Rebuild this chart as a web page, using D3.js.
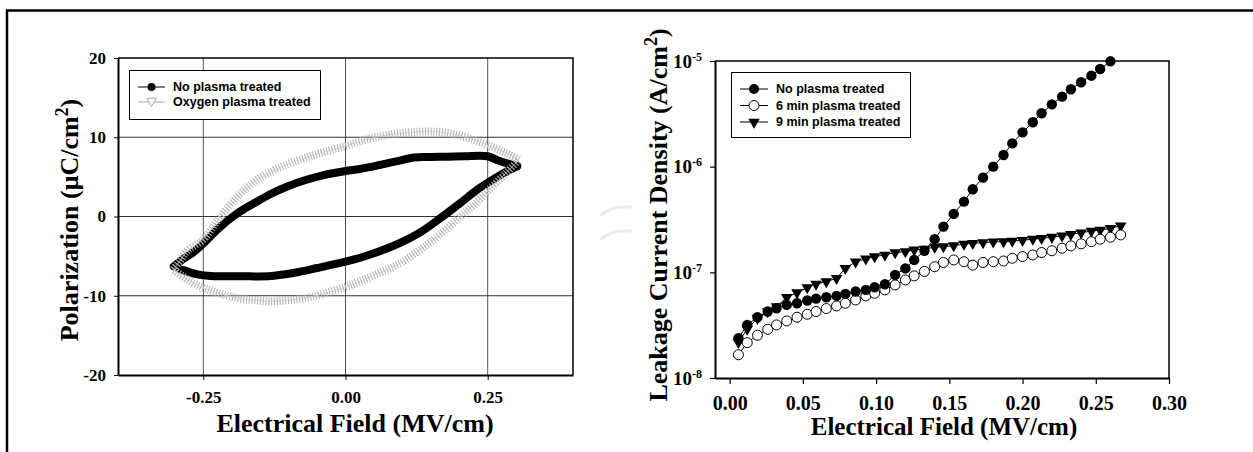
<!DOCTYPE html>
<html>
<head>
<meta charset="utf-8">
<script src="https://d3js.org/d3.v7.min.js"></script>
<style>
  body { margin: 0; background: #fff; }
  svg { display: block; }
  .serif { font-family: "Liberation Serif", "Times New Roman", serif; font-weight: bold; }
  .sans { font-family: "Liberation Sans", Arial, sans-serif; font-weight: bold; }
</style>
</head>
<body>
<div id="container"></div>
<script>
// ---- left panel: P-E hysteresis loops ----
var fieldNoUp = [-0.302,-0.284,-0.267,-0.250,-0.220,-0.190,-0.160,-0.130,-0.100,-0.070,-0.040,0.000,0.025,0.060,0.095,0.120,0.150,0.180,0.210,0.250,0.267,0.284,0.302];
var polNoUp = [-6.3,-5.3,-4.5,-3.4,-1.3,0.4,1.7,2.9,3.85,4.6,5.2,5.75,6.0,6.5,7.05,7.45,7.5,7.55,7.6,7.6,7.1,6.7,6.35];
var fieldNoDown = [-0.302,-0.284,-0.260,-0.237,-0.180,-0.130,-0.090,-0.050,0.000,0.026,0.060,0.097,0.132,0.167,0.202,0.232,0.261,0.284,0.302];
var polNoDown = [-6.3,-6.8,-7.3,-7.5,-7.55,-7.5,-7.1,-6.5,-5.7,-5.2,-4.4,-3.3,-1.97,-0.2,1.7,3.4,4.75,5.7,6.35];

var fieldOxUp = [-0.303,-0.290,-0.278,-0.250,-0.220,-0.190,-0.160,-0.130,-0.100,-0.070,-0.040,0.000,0.026,0.060,0.097,0.132,0.167,0.202,0.232,0.261,0.284,0.305];
var polOxUp = [-6.7,-5.5,-4.3,-2.9,0.0,2.5,4.4,5.7,6.65,7.4,8.1,8.9,9.5,10.1,10.5,10.7,10.65,10.2,9.5,8.7,7.95,7.2];
var fieldOxDown = [-0.303,-0.278,-0.250,-0.220,-0.190,-0.160,-0.130,-0.100,-0.070,-0.040,0.000,0.026,0.060,0.097,0.132,0.167,0.202,0.232,0.261,0.284,0.305];
var polOxDown = [-6.7,-7.95,-9.0,-9.75,-10.3,-10.55,-10.7,-10.55,-10.3,-9.75,-8.9,-8.15,-7.1,-5.85,-4.15,-2.2,0.0,1.9,4.0,5.6,7.2];

var loopXTicks = [-0.25, 0, 0.25];
var loopXLabels = ['-0.25', '0.00', '0.25'];
var loopYTicks = [-20, -10, 0, 10, 20];
var loopYLabels = ['-20', '-10', '0', '10', '20'];
var loopNames = ['No plasma treated', 'Oxygen plasma treated'];

// ---- right panel: leakage current ----
var fieldLeak = [0.006,0.012,0.019,0.026,0.032,0.039,0.046,0.053,0.059,0.066,0.073,0.079,0.086,0.093,0.099,0.106,0.113,0.120,0.126,0.133,0.140,0.146,0.153,0.160,0.166,0.173,0.180,0.187,0.193,0.200,0.207,0.213,0.220,0.227,0.233,0.240,0.247,0.253,0.260,0.267];
var leakNo = [2.38e-8,3.18e-8,3.76e-8,4.26e-8,4.57e-8,4.92e-8,5.10e-8,5.41e-8,5.64e-8,5.81e-8,5.98e-8,6.25e-8,6.58e-8,6.82e-8,7.23e-8,7.71e-8,9.45e-8,1.09e-7,1.31e-7,1.60e-7,2.06e-7,2.71e-7,3.57e-7,4.67e-7,6.11e-7,7.87e-7,1.00e-6,1.29e-6,1.66e-6,2.11e-6,2.63e-6,3.20e-6,3.89e-6,4.60e-6,5.40e-6,6.29e-6,7.26e-6,8.40e-6,9.93e-6];
var leak6 = [1.66e-8,2.16e-8,2.54e-8,2.89e-8,3.18e-8,3.47e-8,3.76e-8,4.01e-8,4.26e-8,4.54e-8,4.81e-8,5.10e-8,5.48e-8,5.98e-8,6.34e-8,6.82e-8,7.60e-8,8.47e-8,9.25e-8,1.02e-7,1.13e-7,1.24e-7,1.31e-7,1.26e-7,1.17e-7,1.24e-7,1.26e-7,1.28e-7,1.36e-7,1.41e-7,1.46e-7,1.54e-7,1.60e-7,1.69e-7,1.78e-7,1.86e-7,1.95e-7,2.06e-7,2.15e-7,2.26e-7];
var leak9 = [2.18e-8,2.9e-8,3.68e-8,4.26e-8,4.74e-8,5.81e-8,6.43e-8,7.16e-8,7.76e-8,8.17e-8,8.79e-8,1.09e-7,1.26e-7,1.34e-7,1.41e-7,1.46e-7,1.54e-7,1.57e-7,1.63e-7,1.66e-7,1.73e-7,1.75e-7,1.79e-7,1.85e-7,1.88e-7,1.91e-7,1.94e-7,1.95e-7,1.98e-7,2.01e-7,2.06e-7,2.10e-7,2.15e-7,2.21e-7,2.29e-7,2.37e-7,2.46e-7,2.51e-7,2.61e-7,2.75e-7];

var leakXTicks = [0, 0.05, 0.10, 0.15, 0.20, 0.25, 0.30];
var leakYTicks = [1e-8, 1e-7, 1e-6, 1e-5];
var leakYExp = ['-8', '-7', '-6', '-5'];
var leakNames = ['No plasma treated', '6 min plasma treated', '9 min plasma treated'];

var W = 1253, H = 452;

var svg = d3.select('#container').append('svg')
	.attr('width', W).attr('height', H)
	.style('background', '#fff');

// outer frame (top + left edge)
svg.append('path')
	.attr('d', 'M7,' + H + 'V10.5H' + W)
	.attr('fill', 'none').attr('stroke', '#000').attr('stroke-width', 2.5);

// faint watermark arcs between the panels
svg.append('path')
	.attr('d', 'M600,216Q612,205 632,207M600,240Q612,229 632,231')
	.attr('fill', 'none').attr('stroke', '#ececec').attr('stroke-width', 3);

//======== left panel ========
var xL = d3.scaleLinear().domain([-0.4, 0.4]).range([118, 573]);
var yL = d3.scaleLinear().domain([-20, 20]).range([375, 58]);

var gL = svg.append('g');

// grid
gL.selectAll('line.vgrid').data(loopXTicks).enter().append('line')
	.attr('x1', d => xL(d)).attr('x2', d => xL(d))
	.attr('y1', yL(20)).attr('y2', yL(-20))
	.attr('stroke', '#555').attr('stroke-width', 1);
gL.selectAll('line.hgrid').data([-10, 0, 10]).enter().append('line')
	.attr('x1', xL(-0.4)).attr('x2', xL(0.4))
	.attr('y1', d => yL(d)).attr('y2', d => yL(d))
	.attr('stroke', '#333').attr('stroke-width', 1);

// axes
var axLx = gL.append('g').attr('transform', 'translate(0,' + yL(-20) + ')')
	.call(d3.axisBottom(xL).tickValues(loopXTicks).tickSize(5).tickSizeOuter(0).tickPadding(11)
		.tickFormat((d, i) => loopXLabels[i]));
var axLy = gL.append('g').attr('transform', 'translate(' + xL(-0.4) + ',0)')
	.call(d3.axisLeft(yL).tickValues(loopYTicks).tickSize(4).tickSizeOuter(0).tickPadding(8)
		.tickFormat((d, i) => loopYLabels[i]));
[axLx, axLy].forEach(function(a){
	a.select('.domain').attr('stroke', '#000').attr('stroke-width', 2);
	a.selectAll('.tick line').attr('stroke', '#000');
	a.selectAll('text').attr('class', 'serif').style('font-size', '17px').attr('fill', '#000');
});

// box top/right
gL.append('path')
	.attr('d', 'M' + xL(-0.4) + ',' + yL(20) + 'H' + xL(0.4) + 'V' + yL(-20))
	.attr('fill', 'none').attr('stroke', '#000').attr('stroke-width', 1.5);

var loopLine = d3.line().x(d => xL(d[0])).y(d => yL(d[1])).curve(d3.curveCatmullRom);

var loopNo = d3.zip(fieldNoUp, polNoUp).reverse().concat(d3.zip(fieldNoDown, polNoDown));
var loopOx = d3.zip(fieldOxUp, polOxUp).reverse().concat(d3.zip(fieldOxDown, polOxDown));

gL.append('path').datum(loopNo)
	.attr('d', loopLine)
	.attr('fill', 'none').attr('stroke', '#000')
	.attr('stroke-width', 8).attr('stroke-linejoin', 'round').attr('stroke-linecap', 'round');

gL.append('path').datum(loopOx)
	.attr('d', loopLine)
	.attr('fill', 'none').attr('stroke', '#b4b4b4')
	.attr('stroke-width', 8).attr('stroke-dasharray', '1.1,1.7');
gL.append('path').datum(loopOx)
	.attr('d', loopLine)
	.attr('fill', 'none').attr('stroke', '#c8c8c8').attr('stroke-width', 0.8);

// titles
gL.append('text').attr('class', 'serif')
	.attr('x', 355).attr('y', 432).attr('text-anchor', 'middle')
	.style('font-size', '26px').text('Electrical Field (MV/cm)');
var tLy = gL.append('text').attr('class', 'serif')
	.attr('transform', 'translate(78,220) rotate(-90)').attr('text-anchor', 'middle')
	.style('font-size', '26px');
tLy.append('tspan').text('Polarization (\u03BCC/cm');
tLy.append('tspan').attr('dy', -10).style('font-size', '18px').text('2');
tLy.append('tspan').attr('dy', 10).text(')');

// legend
var legL = gL.append('g');
legL.append('rect').attr('x', 129.5).attr('y', 70.5).attr('width', 191).attr('height', 49)
	.attr('fill', '#fff').attr('stroke', '#000').attr('stroke-width', 1);
var legLRows = legL.selectAll('g.row').data(loopNames).enter().append('g')
	.attr('transform', (d, i) => 'translate(0,' + (87 + i * 15) + ')');
legLRows.append('line').attr('x1', 138).attr('x2', 165)
	.attr('stroke', (d, i) => i ? '#aaa' : '#000').attr('stroke-width', 1);
legLRows.filter((d, i) => i === 0).append('circle')
	.attr('cx', 151.5).attr('r', 4).attr('fill', '#000');
legLRows.filter((d, i) => i === 1).append('path')
	.attr('d', d3.symbol(d3.symbolTriangle, 40))
	.attr('transform', 'translate(151.5,-1) rotate(180)')
	.attr('fill', '#fff').attr('stroke', '#aaa').attr('stroke-width', 1);
legLRows.append('text').attr('class', 'sans')
	.attr('x', 173).attr('dy', '0.35em').style('font-size', '12.5px').text(d => d);

//======== right panel ========
var xR = d3.scaleLinear().domain([-0.01, 0.30]).range([715, 1169]);
var yR = d3.scaleLog().domain([1e-8, 1e-5]).range([378, 61]);

var gR = svg.append('g');

var axRx = gR.append('g').attr('transform', 'translate(0,' + yR(1e-8) + ')')
	.call(d3.axisBottom(xR).tickValues(leakXTicks).tickSize(6).tickSizeOuter(0).tickPadding(12)
		.tickFormat(d3.format('.2f')));
var axRy = gR.append('g').attr('transform', 'translate(' + xR(-0.01) + ',0)')
	.call(d3.axisLeft(yR).tickValues(leakYTicks).tickSize(5).tickSizeOuter(0).tickPadding(13)
		.tickFormat(() => ''));
[axRx, axRy].forEach(function(a){
	a.select('.domain').attr('stroke', '#000').attr('stroke-width', 2);
	a.selectAll('.tick line').attr('stroke', '#000').attr('stroke-width', 1.2);
});
axRx.selectAll('text').attr('class', 'serif').style('font-size', '20px').attr('fill', '#000');

var yLab = axRy.selectAll('.tick text').attr('class', 'serif').attr('fill', '#000')
	.attr('dy', '0.32em').style('font-size', '19px');
yLab.append('tspan').text('10');
yLab.append('tspan').attr('dy', -7).style('font-size', '12px').text((d, i) => leakYExp[i]);
yLab.attr('text-anchor', 'end').attr('x', -13);

gR.append('path')
	.attr('d', 'M' + xR(-0.01) + ',' + yR(1e-5) + 'H' + xR(0.30) + 'V' + yR(1e-8))
	.attr('fill', 'none').attr('stroke', '#000').attr('stroke-width', 1.5);

var leakLine = d3.line().x(d => xR(d[0])).y(d => yR(d[1]));
var ptsNo = d3.zip(fieldLeak.slice(0, leakNo.length), leakNo);
var pts6 = d3.zip(fieldLeak, leak6);
var pts9 = d3.zip(fieldLeak, leak9);

[ptsNo, pts6, pts9].forEach(function(p){
	gR.append('path').datum(p).attr('d', leakLine)
		.attr('fill', 'none').attr('stroke', '#000').attr('stroke-width', 1);
});

var triDown = d3.symbol(d3.symbolTriangle, 58);
gR.append('g').selectAll('path').data(pts9).enter().append('path')
	.attr('d', triDown)
	.attr('transform', d => 'translate(' + xR(d[0]) + ',' + yR(d[1]) + ') rotate(180)')
	.attr('fill', '#000');
gR.append('g').selectAll('circle').data(pts6).enter().append('circle')
	.attr('cx', d => xR(d[0])).attr('cy', d => yR(d[1])).attr('r', 5)
	.attr('fill', '#fff').attr('stroke', '#000').attr('stroke-width', 1);
gR.append('g').selectAll('circle').data(ptsNo).enter().append('circle')
	.attr('cx', d => xR(d[0])).attr('cy', d => yR(d[1])).attr('r', 5.2)
	.attr('fill', '#000');

// titles
gR.append('text').attr('class', 'serif')
	.attr('x', 944).attr('y', 435).attr('text-anchor', 'middle')
	.style('font-size', '25px').text('Electrical Field (MV/cm)');
var tRy = gR.append('text').attr('class', 'serif')
	.attr('transform', 'translate(667,215) rotate(-90)').attr('text-anchor', 'middle')
	.style('font-size', '26px');
tRy.append('tspan').text('Leakage Current Density (A/cm');
tRy.append('tspan').attr('dy', -10).style('font-size', '18px').text('2');
tRy.append('tspan').attr('dy', 10).text(')');

// legend
var legR = gR.append('g');
legR.append('rect').attr('x', 731.5).attr('y', 72.5).attr('width', 179).attr('height', 65)
	.attr('fill', '#fff').attr('stroke', '#000').attr('stroke-width', 1);
var legRRows = legR.selectAll('g.row').data(leakNames).enter().append('g')
	.attr('transform', (d, i) => 'translate(0,' + (89 + i * 16.5) + ')');
legRRows.append('line').attr('x1', 740).attr('x2', 768)
	.attr('stroke', '#000').attr('stroke-width', 1);
legRRows.filter((d, i) => i === 0).append('circle')
	.attr('cx', 754).attr('r', 5).attr('fill', '#000');
legRRows.filter((d, i) => i === 1).append('circle')
	.attr('cx', 754).attr('r', 5).attr('fill', '#fff').attr('stroke', '#000');
legRRows.filter((d, i) => i === 2).append('path')
	.attr('d', triDown).attr('transform', 'translate(754,0) rotate(180)').attr('fill', '#000');
legRRows.append('text').attr('class', 'sans')
	.attr('x', 776).attr('dy', '0.35em').style('font-size', '12.5px').text(d => d);
</script>
</body>
</html>
